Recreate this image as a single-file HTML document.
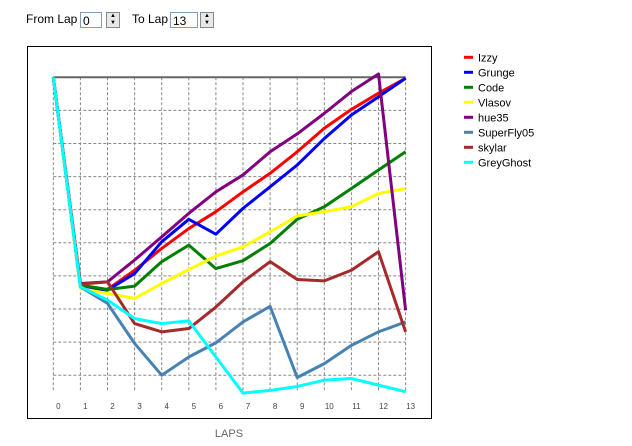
<!DOCTYPE html>
<html><head><meta charset="utf-8"><style>
body{margin:0;width:632px;height:446px;background:#fff;font-family:"Liberation Sans",sans-serif;position:relative;overflow:hidden}
.t{position:absolute;font-size:12px;color:#000}
.inp{position:absolute;border:1px solid #7f9db9;background:#fff;font-size:12px;height:16px;line-height:16px;padding-left:2px;box-sizing:border-box}
.spin{position:absolute;width:14px;height:16px;border:1px solid #888;background:#e8e8e8;box-sizing:border-box;font-size:6px;line-height:7px;text-align:center}
</style></head><body>
<div class="t" style="left:26px;top:12px">From Lap</div>
<div class="inp" style="left:80px;top:12px;width:22px">0</div>
<div class="spin" style="left:106px;top:12px">▲<br>▼</div>
<div class="t" style="left:132px;top:12px">To Lap</div>
<div class="inp" style="left:170px;top:12px;width:28px">13</div>
<div class="spin" style="left:200px;top:12px">▲<br>▼</div>
<svg id="chart" width="632" height="446" style="position:absolute;left:0;top:0" xmlns="http://www.w3.org/2000/svg"></svg>
<script>
const laps=[0,1,2,3,4,5,6,7,8,9,10,11,12,13];
const names=["Izzy","Grunge","Code","Vlasov","hue35","SuperFly05","skylar","GreyGhost"];
const colors=["#ff0000","#0000ff","#008000","#ffff00","#800080","#4682b4","#a52a2a","#00ffff"];
const izzy=[0,6.31,6.41,5.83,5.17,4.57,4.06,3.46,2.90,2.25,1.54,0.97,0.48,0.03];
const grunge=[0,6.33,6.43,5.93,4.97,4.29,4.74,3.96,3.31,2.65,1.85,1.14,0.59,0.03];
const code=[0,6.28,6.41,6.31,5.57,5.07,5.78,5.54,5.02,4.29,3.91,3.36,2.80,2.25];
const vlasov=[0,6.38,6.53,6.68,6.23,5.81,5.40,5.12,4.67,4.19,4.06,3.91,3.51,3.36];
const hue35=[0,6.23,6.18,5.52,4.82,4.11,3.46,2.95,2.25,1.71,1.09,0.43,-0.10,7.04];
const superfly=[0,6.33,6.83,8.04,9.00,8.45,8.02,7.39,6.92,9.07,8.65,8.10,7.69,7.39];
const skylar=[0,6.25,6.18,7.44,7.69,7.59,6.94,6.18,5.57,6.11,6.15,5.83,5.27,7.69];
const grey=[0,6.33,6.73,7.29,7.44,7.36,8.45,9.54,9.46,9.34,9.15,9.10,9.30,9.50];
const series=[izzy,grunge,code,vlasov,hue35,superfly,skylar,grey];
const NS="http://www.w3.org/2000/svg";
const svg=document.getElementById('chart');
const xs=i=>53.3+i*27.1;
const ys=v=>77.3+v*33.1;
function mk(t,a){const e=document.createElementNS(NS,t);for(const k in a)e.setAttribute(k,a[k]);svg.appendChild(e);return e;}
const fr=mk('rect',{x:27.5,y:46.5,width:404,height:372,fill:'none',stroke:'#000','stroke-width':1});


for(let g=1;g<=9;g++){const l=mk('line',{x1:xs(0),x2:xs(13),y1:ys(g),y2:ys(g),stroke:'#888','stroke-dasharray':'3,2'});

}
laps.forEach(i=>{const l=mk('line',{x1:xs(i),x2:xs(i),y1:ys(0),y2:392,stroke:'#888','stroke-dasharray':'3,2'});


const t=mk('text',{x:xs(i)+5,y:409,'font-size':8,fill:'#444','text-anchor':'middle','font-family':'Liberation Sans'});t.textContent=i;

});
const topLine=mk('line',{x1:xs(0),x2:xs(13),y1:ys(0),y2:ys(0),stroke:'#666','stroke-width':2});


series.forEach((s,k)=>{const p=mk('polyline',{points:s.map((v,i)=>xs(laps[i])+','+ys(v)).join(' '),fill:'none',stroke:colors[k],'stroke-width':3,'stroke-linejoin':'round'});


const ly=57.3+k*15;
const m=mk('line',{x1:464,x2:473,y1:ly,y2:ly,stroke:colors[k],'stroke-width':3});


const t=mk('text',{x:478,y:ly+4,'font-size':11,fill:'#000','font-family':'Liberation Sans'});t.textContent=names[k];

});
const xl=mk('text',{x:229,y:437,'font-size':11,fill:'#666','text-anchor':'middle','font-family':'Liberation Sans'});xl.textContent='LAPS';


</script>
</body></html>
